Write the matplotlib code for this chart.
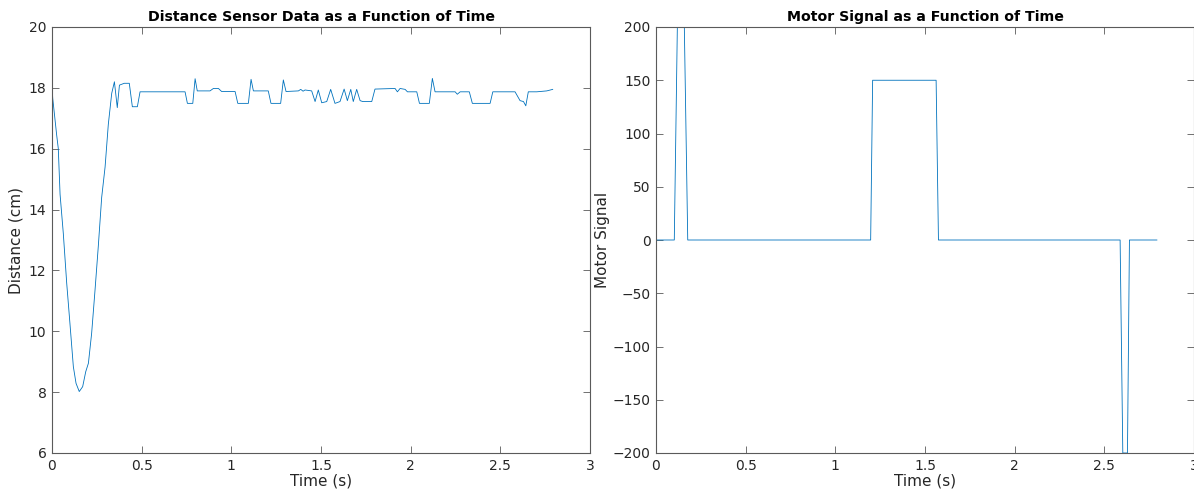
import matplotlib
matplotlib.use('Agg')
import matplotlib.pyplot as plt

# distance sensor readings (s, cm)
dist_t = [0.000, 0.004, 0.026, 0.035, 0.045, 0.063, 0.082, 0.100, 0.119, 0.134,
          0.152, 0.171, 0.188, 0.203, 0.221, 0.240, 0.258, 0.277, 0.296, 0.314,
          0.333, 0.348, 0.364, 0.376, 0.403, 0.431, 0.448, 0.476, 0.491, 0.742,
          0.755, 0.785, 0.798, 0.810, 0.881, 0.900, 0.928, 0.946, 1.021, 1.036,
          1.095, 1.110, 1.123, 1.206, 1.221, 1.275, 1.290, 1.305, 1.374, 1.387,
          1.400, 1.411, 1.448, 1.467, 1.485, 1.504, 1.532, 1.554, 1.578, 1.606,
          1.629, 1.647, 1.666, 1.680, 1.699, 1.718, 1.733, 1.783, 1.801, 1.913,
          1.926, 1.941, 1.969, 1.982, 2.034, 2.049, 2.104, 2.121, 2.136, 2.248,
          2.260, 2.276, 2.327, 2.344, 2.443, 2.458, 2.582, 2.610, 2.629, 2.642,
          2.656, 2.703, 2.759, 2.792]
dist_cm = [18.10, 17.66, 16.45, 16.01, 14.50, 13.22, 11.58, 10.26, 8.84, 8.29,
           8.02, 8.18, 8.67, 8.95, 9.93, 11.36, 12.78, 14.40, 15.40, 16.80,
           17.82, 18.20, 17.35, 18.09, 18.15, 18.15, 17.38, 17.38, 17.87, 17.87,
           17.49, 17.49, 18.30, 17.90, 17.90, 17.98, 17.98, 17.88, 17.88, 17.49,
           17.49, 18.28, 17.90, 17.90, 17.49, 17.49, 18.26, 17.88, 17.90, 17.95,
           17.89, 17.93, 17.90, 17.55, 17.93, 17.51, 17.55, 17.95, 17.49, 17.55,
           17.96, 17.58, 17.95, 17.55, 17.95, 17.58, 17.55, 17.55, 17.96, 17.98,
           17.87, 17.98, 17.95, 17.87, 17.87, 17.49, 17.49, 18.31, 17.87, 17.87,
           17.79, 17.87, 17.87, 17.49, 17.49, 17.87, 17.87, 17.58, 17.55, 17.41,
           17.87, 17.87, 17.90, 17.95]

# motor command
motor_t = [0, 0.102, 0.119, 0.158, 0.177, 1.197, 1.208, 1.562, 1.575,
           2.588, 2.603, 2.629, 2.640, 2.793]
motor_v = [0, 0, 200, 200, 0, 0, 150, 150, 0, 0, -200, -200, 0, 0]

xticks = [0, 0.5, 1, 1.5, 2, 2.5, 3]
xticklabels = ['0', '0.5', '1', '1.5', '2', '2.5', '3']
dist_yticks = [6, 8, 10, 12, 14, 16, 18, 20]
motor_yticks = [-200, -150, -100, -50, 0, 50, 100, 150, 200]

plt.rcParams['font.family'] = 'DejaVu Sans'
line_col = '#0072BD'
ax_col = '#5a5a5a'
txt_col = '#262626'

fig = plt.figure(figsize=(11.94, 4.91), dpi=100)
ax1 = fig.add_axes([52/1194, 1 - 453/491, 538/1194, 426/491])
ax2 = fig.add_axes([656/1194, 1 - 453/491, 538/1194, 426/491])

def style(ax):
	ax.set_xlim(0, 3)
	ax.set_xticks(xticks)
	ax.set_xticklabels(xticklabels)
	ax.tick_params(direction='in', length=5, width=0.6, color=ax_col,
		labelcolor=txt_col, labelsize=10, top=True, right=True, pad=4)
	for s in ax.spines.values():
		s.set_color(ax_col)
		s.set_linewidth(0.8)
	ax.set_xlabel('Time (s)', fontsize=11, color=txt_col, labelpad=1)

ax1.plot(dist_t, dist_cm, color=line_col, lw=0.6)
style(ax1)
ax1.set_ylim(6, 20)
ax1.set_yticks(dist_yticks)
ax1.set_ylabel('Distance (cm)', fontsize=11, color=txt_col, labelpad=4)
ax1.set_title('Distance Sensor Data as a Function of Time', fontsize=10.2,
	fontweight='bold', pad=4)

ax2.plot(motor_t, motor_v, color=line_col, lw=0.6)
style(ax2)
ax2.set_ylim(-200, 200)
ax2.set_yticks(motor_yticks)
ax2.set_ylabel('Motor Signal', fontsize=11, color=txt_col, labelpad=2)
ax2.set_title('Motor Signal as a Function of Time', fontsize=10.2,
	fontweight='bold', pad=4)

fig.savefig('out.png', dpi=100)
